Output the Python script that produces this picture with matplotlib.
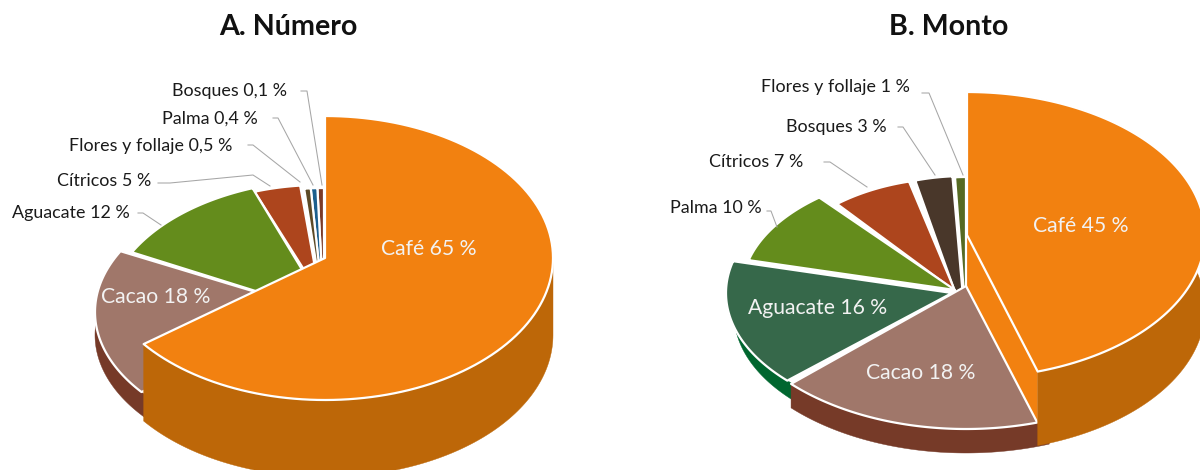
"""Two raised 3D-style pies: number and amount by crop."""

import matplotlib

matplotlib.use("Agg")

import matplotlib.pyplot as plt
import numpy as np
from matplotlib.patches import Polygon

plt.rcParams["font.family"] = ["Lato", "DejaVu Sans"]

# ── Data ──────────────────────────────────────────────────────────────────────

TITLE_A = "A. Número"
CROPS_A = ["Café", "Cacao", "Aguacate", "Cítricos", "Flores y follaje", "Palma", "Bosques"]
SHARES_A = [64.7, 18.0, 11.8, 4.6, 0.5, 0.4, 0.1]
SHOWN_A = ["65", "18", "12", "5", "0,5", "0,4", "0,1"]

TITLE_B = "B. Monto"
CROPS_B = ["Café", "Cacao", "Aguacate", "Palma", "Cítricos", "Bosques", "Flores y follaje"]
SHARES_B = [45.2, 17.8, 16.0, 10.0, 7.0, 3.0, 1.0]
SHOWN_B = ["45", "18", "16", "10", "7", "3", "1"]

# ── Style and layout (pixels of the 1200x470 canvas) ──────────────────────────

COLORS_A = ["#F28110", "#A0776A", "#648C1C", "#AD451D", "#5D4A26", "#1C5F8D", "#7A3A28"]
WALLS_A = ["#BD6708", "#763A28", None, None, None, None, None]
COLORS_B = ["#F28110", "#A0776A", "#36684A", "#648C1C", "#AD451D", "#49372A", "#566A23"]
WALLS_B = ["#BD6708", "#763A28", "#00662F", None, None, None, None]

# cx, cy, rx, ry, depth, sideways shift of the wall foot
GEOM_A = [
    (325, 258, 228, 142, 77, 0),
    (322, 312, 227, 132, 23, 0),
    (329, 314, 222, 134, 0, 0),
    (320, 295, 190, 110, 0, 0),
    (324, 312, 190, 124, 0, 0),
    (324, 312, 190, 124, 0, 0),
    (324, 312, 190, 124, 0, 0),
]
GEOM_B = [
    (967, 235, 238, 143, 74, 0),
    (966, 286, 240, 143, 24, 0),
    (952, 293, 226, 128, 21, 8),
    (955, 290, 213, 120, 0, 0),
    (955, 291, 185, 113, 0, 0),
    (965, 320, 200, 144, 0, 0),
    (966, 320, 175, 143, 0, 0),
]

# right end of the outside labels, and centre of the inside ones
LABEL_POS_A = {
    "Café": (429, 249),
    "Cacao": (156, 297),
    "Aguacate": (130, 213),
    "Cítricos": (151, 181),
    "Flores y follaje": (232, 146),
    "Palma": (258, 119),
    "Bosques": (287, 91),
}
LABEL_POS_B = {
    "Café": (1081, 226),
    "Cacao": (921, 373),
    "Aguacate": (818, 308),
    "Palma": (762, 208),
    "Cítricos": (803, 162),
    "Bosques": (887, 127),
    "Flores y follaje": (910, 87),
}
INSIDE_A = ["Café", "Cacao"]
INSIDE_B = ["Café", "Cacao", "Aguacate"]

LEADERS_A = [
    [(301, 91), (307, 91), (322, 185)],
    [(273, 118), (278, 118), (313, 185)],
    [(248, 145), (253, 145), (300, 182)],
    [(158, 183), (170, 183), (253, 175), (270, 186)],
    [(138, 213), (143, 213), (161, 225)],
]
LEADERS_B = [
    [(922, 93), (929, 93), (963, 175)],
    [(898, 127), (903, 127), (935, 175)],
    [(824, 162), (830, 162), (867, 187)],
    [(767, 211), (771, 211), (777, 227)],
]

MIN_SPAN = 2.0  # degrees, thin slices get at least this much
WALL_OVERLAP = 3.0  # degrees, low walls run on under the next wall


def slice_edges(shares):
    edges = list(np.cumsum([0, *shares]) / sum(shares) * 360)
    for i in range(len(shares) - 1, 0, -1):
        edges[i] = min(edges[i], edges[i + 1] - MIN_SPAN)
    return edges


def arc(geom, t0, t1):
    cx, cy, rx, ry = geom[:4]
    t = np.radians(np.linspace(t0, t1, 120))
    return np.column_stack([cx + rx * np.sin(t), cy - ry * np.cos(t)])


def draw_wall(ax, geom, t0, t1, color):
    top = arc(geom, t0, t1)
    pts = np.vstack([top, top[::-1] + [geom[5], geom[4]]])
    ax.add_patch(Polygon(pts, closed=True, facecolor=color, edgecolor=color, linewidth=0.3))


def draw_top(ax, geom, t0, t1, color):
    pts = np.vstack([[geom[:2]], arc(geom, t0, t1)])
    ax.add_patch(
        Polygon(pts, closed=True, facecolor=color, edgecolor="white", linewidth=1.6,
                joinstyle="round")
    )


def draw_pie(ax, shares, colors, walls, geoms):
    edges = slice_edges(shares)
    g = geoms[0]
    end = arc(g, edges[1], edges[1])[0]
    # cut face of the tall slice, it only shows when the slice ends on the right
    if end[0] > g[0]:
        face = [g[:2], end, end + [0, g[4]], (g[0], g[1] + g[4])]
        ax.add_patch(Polygon(face, closed=True, facecolor=colors[0], edgecolor="none"))
    # the rest back to front
    for i in range(len(shares) - 1, 0, -1):
        if walls[i]:
            draw_wall(ax, geoms[i], edges[i] - WALL_OVERLAP, edges[i + 1], walls[i])
        draw_top(ax, geoms[i], edges[i], edges[i + 1], colors[i])
    draw_wall(ax, g, max(edges[0], 90 if end[0] < g[0] else 0), edges[1], walls[0])
    draw_top(ax, g, edges[0], edges[1], colors[0])


def draw_labels(ax, crops, shown, positions, inside):
    for crop, val in zip(crops, shown, strict=True):
        x, y = positions[crop]
        text = f"{crop} {val} %"
        if crop in inside:
            ax.text(x, y, text, ha="center", va="center", fontsize=15.2, color="#F2F2F2")
        else:
            ax.text(x, y, text, ha="right", va="center", fontsize=12.9, color="#1A1A1A")


fig = plt.figure(figsize=(12, 4.7), dpi=100)
ax = fig.add_axes([0, 0, 1, 1])
ax.set_xlim(0, 1200)
ax.set_ylim(470, 0)
ax.axis("off")

draw_pie(ax, SHARES_A, COLORS_A, WALLS_A, GEOM_A)
draw_pie(ax, SHARES_B, COLORS_B, WALLS_B, GEOM_B)

for line in LEADERS_A + LEADERS_B:
    xs, ys = zip(*line, strict=True)
    ax.plot(xs, ys, color="#A6A6A6", linewidth=0.75)

draw_labels(ax, CROPS_A, SHOWN_A, LABEL_POS_A, INSIDE_A)
draw_labels(ax, CROPS_B, SHOWN_B, LABEL_POS_B, INSIDE_B)

ax.text(288, 27, TITLE_A, ha="center", va="center", fontsize=20.6, fontweight="bold", color="#111111")
ax.text(949, 27, TITLE_B, ha="center", va="center", fontsize=20.6, fontweight="bold", color="#111111")

fig.savefig("out.png", dpi=100)
plt.close(fig)
